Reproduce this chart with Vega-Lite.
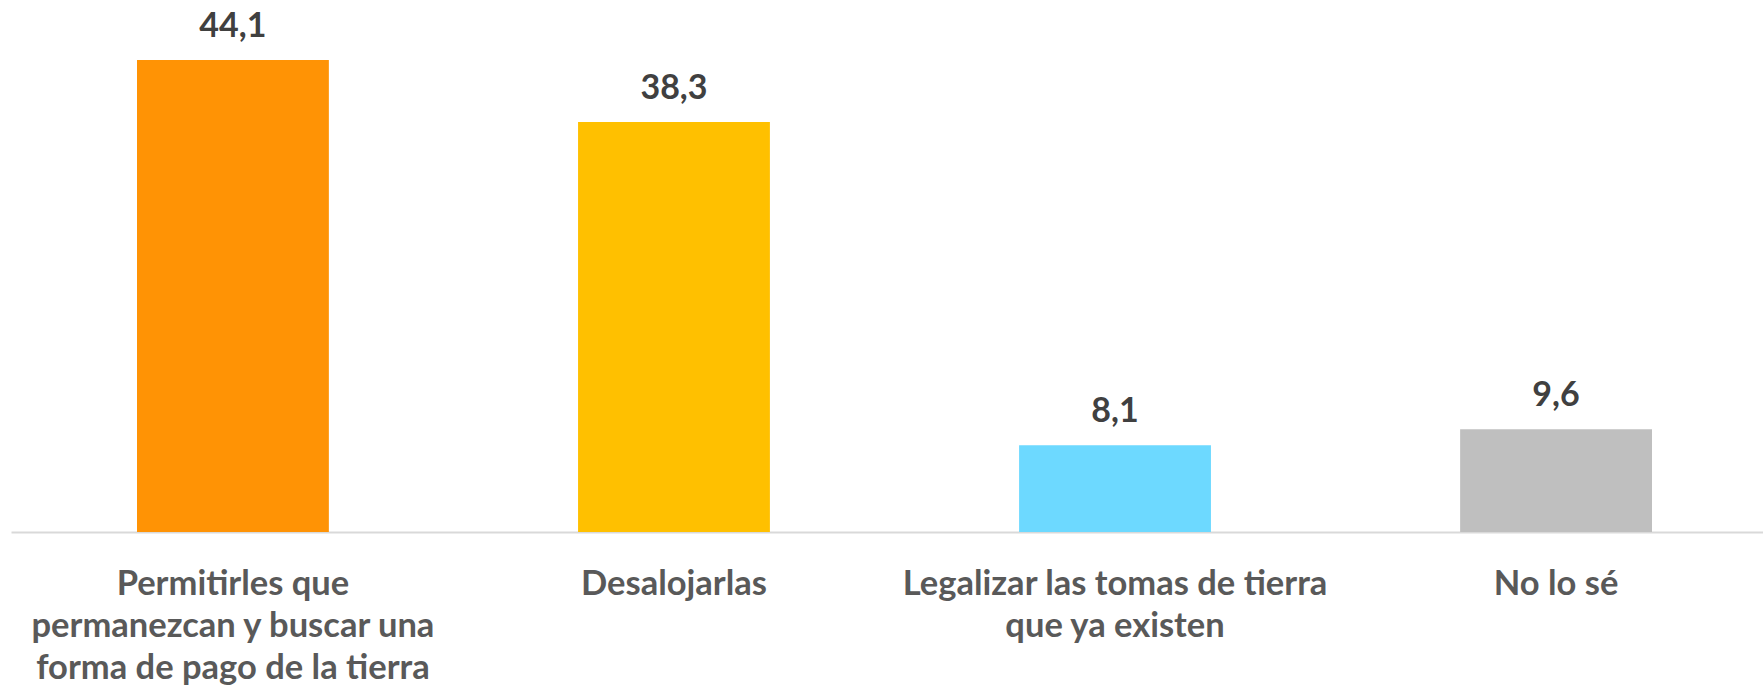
{
  "$schema": "https://vega.github.io/schema/vega-lite/v6.json",
  "width": 1763,
  "height": 532,
  "autosize": {"type": "none"},
  "padding": {"left": 0, "top": 0, "right": 0, "bottom": 159},
  "background": "white",
  "config": {"view": {"stroke": null}},
  "data": {
    "values": [
      {"categoria": "Permitirles que\npermanezcan y buscar una\nforma de pago de la tierra", "valor": 44.1, "etiqueta": "44,1", "color": "#FF9305"},
      {"categoria": "Desalojarlas", "valor": 38.3, "etiqueta": "38,3", "color": "#FFC000"},
      {"categoria": "Legalizar las tomas de tierra\nque ya existen", "valor": 8.1, "etiqueta": "8,1", "color": "#6DD9FF"},
      {"categoria": "No lo sé", "valor": 9.6, "etiqueta": "9,6", "color": "#BFBFBF"}
    ]
  },
  "encoding": {
    "x": {
      "field": "categoria",
      "type": "nominal",
      "sort": null,
      "scale": {"range": [11, 1778], "paddingInner": 0.565, "paddingOuter": 0.2857},
      "axis": {
        "title": null,
        "labelAngle": 0,
        "labelExpr": "split(datum.label, '\\n')",
        "labelFont": "Lato",
        "labelFontWeight": "bold",
        "labelFontSize": 34.5,
        "labelColor": "#595959",
        "labelLineHeight": 42,
        "labelPadding": 35,
        "labelLimit": 1000,
        "ticks": false,
        "domainColor": "#D9D9D9",
        "domainWidth": 2
      }
    },
    "y": {
      "field": "valor",
      "type": "quantitative",
      "scale": {"domain": [0, 49.7], "nice": false},
      "axis": null
    }
  },
  "layer": [
    {
      "mark": {"type": "bar"},
      "encoding": {
        "color": {"field": "color", "type": "nominal", "scale": null, "legend": null}
      }
    },
    {
      "mark": {"type": "text", "baseline": "alphabetic", "dy": -23, "font": "Lato", "fontWeight": "bold", "fontSize": 34, "color": "#404040"},
      "encoding": {"text": {"field": "etiqueta"}}
    }
  ]
}
